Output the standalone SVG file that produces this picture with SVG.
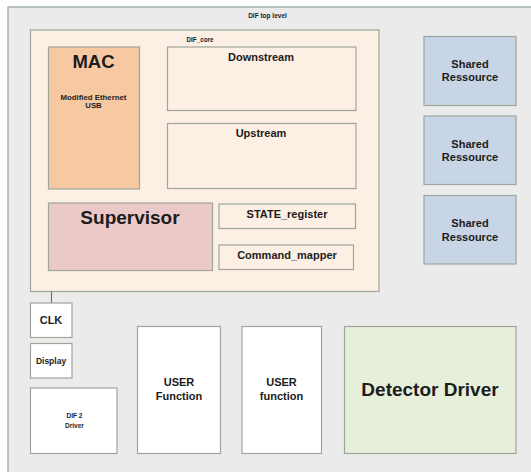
<svg xmlns="http://www.w3.org/2000/svg" width="531" height="472" viewBox="0 0 531 472">
<style>
text{font-family:"Liberation Sans",Arial,sans-serif;font-weight:bold;fill:#1c1c1c;text-anchor:middle;dominant-baseline:central}
.box{stroke:#9ea69c;stroke-width:1.2}
.white{fill:#ffffff}
.core{fill:#fcefe4}
</style>
<rect width="531" height="472" fill="#ffffff"/>
<g id="top_level">
<rect x="8" y="7" width="530" height="470" fill="#ebebeb" stroke="#8fa3a0" stroke-width="1.2"/>
<text x="267.5" y="15" font-size="6.5">DIF top level</text>
</g>
<g id="dif_core">
<rect class="box core" x="30.5" y="30" width="348.5" height="261.5"/>
<text x="200" y="39" font-size="6.3">DIF_core</text>
</g>
<g id="mac">
<rect class="box" x="48.5" y="47" width="91" height="142" fill="#f7c9a2" stroke="#a8957f"/>
<text x="93.5" y="61" font-size="18.5">MAC</text>
<text x="93.5" y="97" font-size="7.8">Modified Ethernet</text>
<text x="93.5" y="105.5" font-size="7.8">USB</text>
</g>
<g id="downstream">
<rect class="box core" x="167.5" y="47" width="188.5" height="63.5"/>
<text x="261" y="56.5" font-size="11">Downstream</text>
</g>
<g id="upstream">
<rect class="box core" x="167.5" y="123.5" width="188.5" height="65"/>
<text x="261" y="132.5" font-size="11">Upstream</text>
</g>
<g id="supervisor">
<rect class="box" x="48.5" y="203" width="164" height="67.5" fill="#ebc9c9"/>
<text x="130" y="217" font-size="19">Supervisor</text>
</g>
<g id="state_register">
<rect class="box core" x="219" y="204" width="136.5" height="24.5"/>
<text x="287" y="213.5" font-size="11">STATE_register</text>
</g>
<g id="command_mapper">
<rect class="box core" x="219" y="245" width="134.5" height="24.5"/>
<text x="287" y="254.5" font-size="11">Command_mapper</text>
</g>
<g id="shared1">
<rect class="box" x="424" y="36.5" width="92" height="69" fill="#c7d5e6" stroke="#8e9caa"/>
<text x="470" y="63.5" font-size="11">Shared</text>
<text x="470" y="77" font-size="11">Ressource</text>
</g>
<g id="shared2">
<rect class="box" x="424" y="116" width="92" height="68.5" fill="#c7d5e6" stroke="#8e9caa"/>
<text x="470" y="143.5" font-size="11">Shared</text>
<text x="470" y="157" font-size="11">Ressource</text>
</g>
<g id="shared3">
<rect class="box" x="424" y="195.5" width="92" height="68.5" fill="#c7d5e6" stroke="#8e9caa"/>
<text x="470" y="223" font-size="11">Shared</text>
<text x="470" y="236.5" font-size="11">Ressource</text>
</g>
<g id="connectors">
<line x1="51.5" y1="291.5" x2="51.5" y2="303" stroke="#6f6f6f" stroke-width="1.2"/>
</g>
<g id="clk">
<rect class="box white" x="30.5" y="303" width="41.5" height="34.5"/>
<text x="51" y="319.5" font-size="11">CLK</text>
</g>
<g id="display">
<rect class="box white" x="30.5" y="343.5" width="41.5" height="34.5"/>
<text x="51" y="361" font-size="8.5">Display</text>
</g>
<g id="dif2_driver">
<rect class="box white" x="30.5" y="388" width="86.5" height="65.5"/>
<text x="74.5" y="415.5" font-size="6.5">DIF 2</text>
<text x="74.5" y="425.5" font-size="6.5">Driver</text>
</g>
<g id="user_function1">
<rect class="box white" x="137.5" y="326.5" width="83" height="127"/>
<text x="179" y="381.5" font-size="11">USER</text>
<text x="179" y="395.5" font-size="11">Function</text>
</g>
<g id="user_function2">
<rect class="box white" x="242" y="326.5" width="79.5" height="127"/>
<text x="281.5" y="381.5" font-size="11">USER</text>
<text x="281.5" y="395.5" font-size="11">function</text>
</g>
<g id="detector_driver">
<rect class="box" x="344.5" y="326.5" width="171.5" height="127" fill="#e5efda"/>
<text x="430" y="389" font-size="19">Detector Driver</text>
</g>
</svg>
